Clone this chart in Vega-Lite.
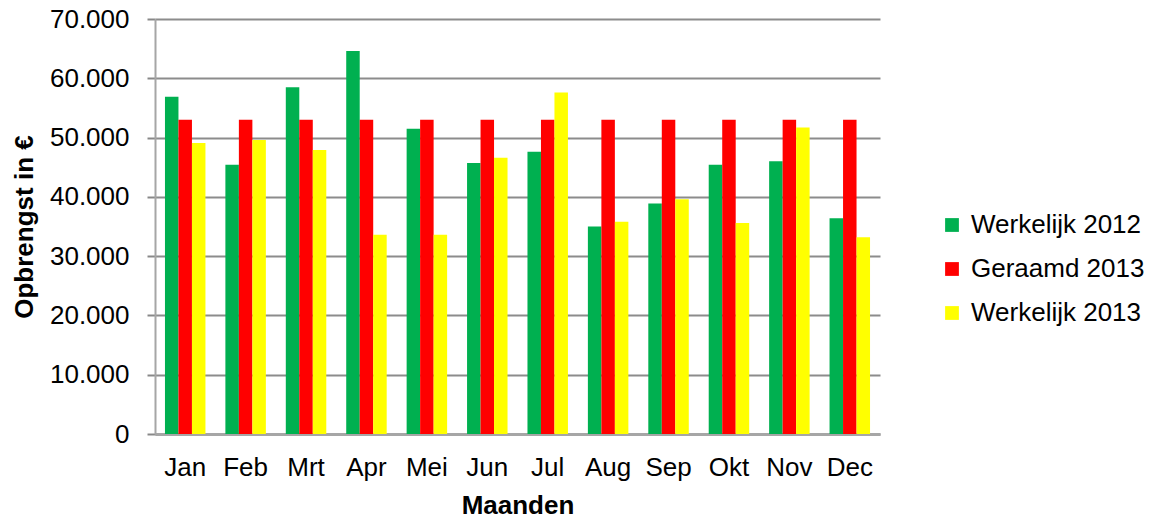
{
  "$schema": "https://vega.github.io/schema/vega-lite/v6.json",
  "autosize": "none",
  "width": 725,
  "height": 415,
  "padding": {"left": 155, "top": 19, "right": 270, "bottom": 89},
  "background": "white",
  "data": {
    "values": [
      {"maand": "Jan", "reeks": "Werkelijk 2012", "waarde": 56900},
      {"maand": "Jan", "reeks": "Geraamd 2013", "waarde": 53000},
      {"maand": "Jan", "reeks": "Werkelijk 2013", "waarde": 49100},
      {"maand": "Feb", "reeks": "Werkelijk 2012", "waarde": 45400},
      {"maand": "Feb", "reeks": "Geraamd 2013", "waarde": 53000},
      {"maand": "Feb", "reeks": "Werkelijk 2013", "waarde": 49600},
      {"maand": "Mrt", "reeks": "Werkelijk 2012", "waarde": 58500},
      {"maand": "Mrt", "reeks": "Geraamd 2013", "waarde": 53000},
      {"maand": "Mrt", "reeks": "Werkelijk 2013", "waarde": 47900},
      {"maand": "Apr", "reeks": "Werkelijk 2012", "waarde": 64600},
      {"maand": "Apr", "reeks": "Geraamd 2013", "waarde": 53000},
      {"maand": "Apr", "reeks": "Werkelijk 2013", "waarde": 33600},
      {"maand": "Mei", "reeks": "Werkelijk 2012", "waarde": 51500},
      {"maand": "Mei", "reeks": "Geraamd 2013", "waarde": 53000},
      {"maand": "Mei", "reeks": "Werkelijk 2013", "waarde": 33600},
      {"maand": "Jun", "reeks": "Werkelijk 2012", "waarde": 45700},
      {"maand": "Jun", "reeks": "Geraamd 2013", "waarde": 53000},
      {"maand": "Jun", "reeks": "Werkelijk 2013", "waarde": 46600},
      {"maand": "Jul", "reeks": "Werkelijk 2012", "waarde": 47600},
      {"maand": "Jul", "reeks": "Geraamd 2013", "waarde": 53000},
      {"maand": "Jul", "reeks": "Werkelijk 2013", "waarde": 57600},
      {"maand": "Aug", "reeks": "Werkelijk 2012", "waarde": 35000},
      {"maand": "Aug", "reeks": "Geraamd 2013", "waarde": 53000},
      {"maand": "Aug", "reeks": "Werkelijk 2013", "waarde": 35800},
      {"maand": "Sep", "reeks": "Werkelijk 2012", "waarde": 38900},
      {"maand": "Sep", "reeks": "Geraamd 2013", "waarde": 53000},
      {"maand": "Sep", "reeks": "Werkelijk 2013", "waarde": 39600},
      {"maand": "Okt", "reeks": "Werkelijk 2012", "waarde": 45400},
      {"maand": "Okt", "reeks": "Geraamd 2013", "waarde": 53000},
      {"maand": "Okt", "reeks": "Werkelijk 2013", "waarde": 35600},
      {"maand": "Nov", "reeks": "Werkelijk 2012", "waarde": 46000},
      {"maand": "Nov", "reeks": "Geraamd 2013", "waarde": 53000},
      {"maand": "Nov", "reeks": "Werkelijk 2013", "waarde": 51700},
      {"maand": "Dec", "reeks": "Werkelijk 2012", "waarde": 36400},
      {"maand": "Dec", "reeks": "Geraamd 2013", "waarde": 53000},
      {"maand": "Dec", "reeks": "Werkelijk 2013", "waarde": 33200}
    ]
  },
  "mark": {"type": "bar"},
  "encoding": {
    "x": {
      "field": "maand",
      "type": "nominal",
      "sort": ["Jan", "Feb", "Mrt", "Apr", "Mei", "Jun", "Jul", "Aug", "Sep", "Okt", "Nov", "Dec"],
      "scale": {"paddingInner": 0.33, "paddingOuter": 0.165},
      "title": "Maanden",
      "axis": {
        "labelAngle": 0,
        "labelFont": "Liberation Sans",
        "labelFontSize": 26,
        "labelColor": "black",
        "labelPadding": 20,
        "ticks": false,
        "domainColor": "#a6a6a6",
        "domainWidth": 3,
        "titleFont": "Liberation Sans",
        "titleFontSize": 26,
        "titleFontWeight": "bold",
        "titleColor": "black",
        "titlePadding": 12
      }
    },
    "xOffset": {
      "field": "reeks",
      "type": "nominal",
      "sort": ["Werkelijk 2012", "Geraamd 2013", "Werkelijk 2013"],
      "scale": {"paddingInner": 0, "paddingOuter": 0}
    },
    "y": {
      "field": "waarde",
      "type": "quantitative",
      "scale": {"domain": [0, 70000], "nice": false},
      "title": "Opbrengst in €",
      "axis": {
        "values": [0, 10000, 20000, 30000, 40000, 50000, 60000, 70000],
        "labelExpr": "replace(format(datum.value, ',.0f'), ',', '.')",
        "labelFont": "Liberation Sans",
        "labelFontSize": 26,
        "labelColor": "black",
        "labelPadding": 18,
        "tickColor": "#888888",
        "tickSize": 8,
        "tickWidth": 2,
        "domainColor": "#a6a6a6",
        "domainWidth": 2,
        "gridColor": "#8c8c8c",
        "gridWidth": 2,
        "titleFont": "Liberation Sans",
        "titleFontSize": 26,
        "titleFontWeight": "bold",
        "titleColor": "black",
        "titlePadding": 12
      }
    },
    "color": {
      "field": "reeks",
      "type": "nominal",
      "sort": ["Werkelijk 2012", "Geraamd 2013", "Werkelijk 2013"],
      "scale": {
        "domain": ["Werkelijk 2012", "Geraamd 2013", "Werkelijk 2013"],
        "range": ["#00B050", "#FF0000", "#FFFF00"]
      },
      "legend": {
        "title": null,
        "orient": "none",
        "legendX": 784,
        "legendY": 193,
        "symbolType": "square",
        "symbolSize": 190,
        "symbolStrokeWidth": 0,
        "labelFont": "Liberation Sans",
        "labelFontSize": 26,
        "labelColor": "black",
        "labelOffset": 6,
        "labelLimit": 400,
        "rowPadding": 18
      }
    }
  },
  "config": {"view": {"stroke": null}}
}
